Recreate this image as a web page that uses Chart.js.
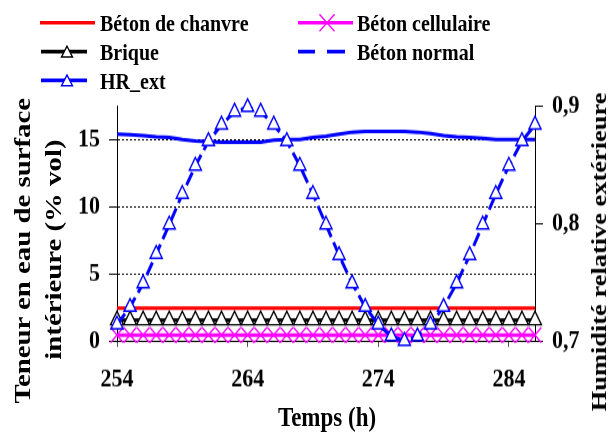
<!DOCTYPE html>
<html>
<head>
<meta charset="utf-8">
<script src="https://cdn.jsdelivr.net/npm/chart.js@4.4.1/dist/chart.umd.min.js"></script>
<style>
  html, body { margin: 0; padding: 0; background: #fff; }
  body { width: 612px; height: 432px; overflow: hidden; }
  /* the original figure is stretched vertically, so the whole drawing is too */
  #wrap { position: relative; width: 612px; height: 360px; transform: scaleY(1.2); transform-origin: 0 0;
          font-family: "Liberation Serif", "Times New Roman", serif; font-weight: 700; color: #000; }
  #chart { position: absolute; left: 0; top: 0; }
  .leg { position: absolute; height: 20px; display: flex; align-items: center; white-space: nowrap;
         font: 700 20px "Liberation Serif", "Times New Roman", serif; }
  .leg svg { margin-right: 3px; flex: none; }
  .title { position: absolute; white-space: nowrap; transform: translate(-50%, -50%);
           font: 700 23px "Liberation Serif", "Times New Roman", serif; }
  .rot { transform: translate(-50%, -50%) rotate(-90deg); }
</style>
</head>
<body>
<div id="wrap">
  <canvas id="chart" width="612" height="360"></canvas>

  <div class="leg" style="left:40px; top:9px;">
    <svg width="57" height="20"><line x1="0" y1="10" x2="55" y2="10" stroke="#ff0000" stroke-width="3"/></svg><span>Béton de chanvre</span>
  </div>
  <div class="leg" style="left:297px; top:9px;">
    <svg width="57" height="20"><line x1="1" y1="10" x2="56" y2="10" stroke="#ff00ff" stroke-width="3"/>
      <line x1="22.5" y1="3" x2="37.5" y2="17" stroke="#ff00ff" stroke-width="1.3"/>
      <line x1="22.5" y1="17" x2="37.5" y2="3" stroke="#ff00ff" stroke-width="1.3"/></svg><span>Béton cellulaire</span>
  </div>
  <div class="leg" style="left:40px; top:33px;">
    <svg width="57" height="20"><line x1="1" y1="10" x2="47" y2="10" stroke="#000" stroke-width="3"/>
      <polygon points="27,5.5 21.5,14.5 32.5,14.5" fill="#fff" stroke="#000" stroke-width="1.3"/></svg><span>Brique</span>
  </div>
  <div class="leg" style="left:297px; top:33px;">
    <svg width="57" height="20"><line x1="1" y1="10" x2="18" y2="10" stroke="#0000ff" stroke-width="3"/>
      <line x1="30" y1="10" x2="48" y2="10" stroke="#0000ff" stroke-width="3"/></svg><span>Béton normal</span>
  </div>
  <div class="leg" style="left:40px; top:57px;">
    <svg width="57" height="20"><line x1="1" y1="10" x2="47" y2="10" stroke="#0000ff" stroke-width="3"/>
      <polygon points="27,5.5 21.5,14.5 32.5,14.5" fill="#fff" stroke="#0000ff" stroke-width="1.3"/></svg><span>HR_ext</span>
  </div>

  <div class="title rot" style="left:22px; top:209px; font-size:24px;">Teneur en eau de surface</div>
  <div class="title rot" style="left:53px; top:208px; font-size:24px;">intérieure (% vol)</div>
  <div class="title rot" style="left:599px; top:210px; font-size:22px;">Humidité relative extérieure</div>
  <div class="title" style="left:327px; top:348px;">Temps (h)</div>
</div>

<script>
const hours = [254, 255, 256, 257, 258, 259, 260, 261, 262, 263, 264, 265, 266, 267, 268, 269, 270,
  271, 272, 273, 274, 275, 276, 277, 278, 279, 280, 281, 282, 283, 284, 285, 286];

// humidité relative extérieure (axe de droite)
const hrExt = [0.714, 0.729, 0.749, 0.774, 0.799, 0.825, 0.849, 0.870, 0.884, 0.895, 0.899, 0.895,
  0.884, 0.870, 0.849, 0.825, 0.799, 0.773, 0.749, 0.729, 0.714, 0.704, 0.700, 0.704, 0.714, 0.729,
  0.749, 0.773, 0.799, 0.825, 0.849, 0.870, 0.884];

// teneur en eau (% vol, axe de gauche)
const betonNormal = [15.4, 15.35, 15.3, 15.2, 15.15, 15.0, 14.9, 14.85, 14.8, 14.8, 14.8, 14.8, 14.95,
  15.0, 15.0, 15.15, 15.25, 15.4, 15.55, 15.6, 15.6, 15.6, 15.6, 15.55, 15.45, 15.3, 15.2, 15.15, 15.1,
  15.0, 15.0, 15.0, 15.0];
const betonChanvre = [2.45, 2.45, 2.45, 2.45, 2.45, 2.45, 2.45, 2.45, 2.45, 2.45, 2.45, 2.45, 2.45, 2.45,
  2.45, 2.45, 2.45, 2.45, 2.45, 2.45, 2.45, 2.45, 2.45, 2.45, 2.45, 2.45, 2.45, 2.45, 2.45, 2.45, 2.45,
  2.45, 2.45];
const brique = [1.55, 1.55, 1.55, 1.55, 1.55, 1.55, 1.55, 1.55, 1.55, 1.55, 1.55, 1.55, 1.55, 1.55, 1.55,
  1.55, 1.55, 1.55, 1.55, 1.55, 1.55, 1.55, 1.55, 1.55, 1.55, 1.55, 1.55, 1.55, 1.55, 1.55, 1.55, 1.55,
  1.55];
const betonCellulaire = [0.45, 0.45, 0.45, 0.45, 0.45, 0.45, 0.45, 0.45, 0.45, 0.45, 0.45, 0.45, 0.45,
  0.45, 0.45, 0.45, 0.45, 0.45, 0.45, 0.45, 0.45, 0.45, 0.45, 0.45, 0.45, 0.45, 0.45, 0.45, 0.45, 0.45,
  0.45, 0.45, 0.45];

const xTicks = [254, 264, 274, 284];
const leftTicks = [0, 5, 10, 15];
const rightTicks = [0.7, 0.8, 0.9];
const rightTickLabels = ['0,7', '0,8', '0,9'];

function toPoints(values) {
  return hours.map((h, i) => ({ x: h, y: values[i] }));
}

const tickFont = { family: "'Liberation Serif', 'Times New Roman', serif", size: 22, weight: 'bold' };

new Chart(document.getElementById('chart'), {
  type: 'line',
  data: {
    datasets: [
      {
        label: 'HR_ext',
        data: toPoints(hrExt),
        yAxisID: 'y1',
        clip: false,
        borderColor: '#0000ff',
        borderWidth: 3,
        borderDash: [12, 5],
        pointStyle: 'triangle',
        pointRadius: 7,
        pointBorderColor: '#0000ff',
        pointBackgroundColor: '#ffffff',
        pointBorderWidth: 1.4
      },
      {
        label: 'Béton cellulaire',
        data: toPoints(betonCellulaire),
        yAxisID: 'y',
        clip: false,
        borderColor: '#ff00ff',
        borderWidth: 3,
        pointStyle: 'crossRot',
        pointRadius: 9,
        pointBorderColor: '#ff00ff',
        pointBorderWidth: 1.3
      },
      {
        label: 'Brique',
        data: toPoints(brique),
        yAxisID: 'y',
        clip: false,
        borderColor: '#000000',
        borderWidth: 3,
        pointStyle: 'triangle',
        pointRadius: 7.5,
        pointBorderColor: '#000000',
        pointBackgroundColor: '#ffffff',
        pointBorderWidth: 1.3
      },
      {
        label: 'Béton de chanvre',
        data: toPoints(betonChanvre),
        yAxisID: 'y',
        borderColor: '#ff0000',
        borderWidth: 3,
        pointRadius: 0
      },
      {
        label: 'Béton normal',
        data: toPoints(betonNormal),
        yAxisID: 'y',
        borderColor: '#0000ff',
        borderWidth: 3,
        pointRadius: 0
      }
    ]
  },
  options: {
    responsive: false,
    animation: false,
    devicePixelRatio: 1,
    layout: { padding: { top: 88.3, left: 0, right: 0, bottom: 0 } },
    elements: { line: { tension: 0 } },
    plugins: { legend: { display: false }, tooltip: { enabled: false } },
    scales: {
      x: {
        type: 'linear',
        position: 'bottom',
        min: 254,
        max: 286,
        afterBuildTicks: s => { s.ticks = xTicks.map(v => ({ value: v })); },
        afterFit: s => { s.height = 75.8; },
        ticks: { font: tickFont, color: '#000', padding: 14, maxRotation: 0 },
        grid: { drawOnChartArea: false, tickLength: 5, tickColor: '#555' },
        border: { color: '#000', width: 1 }
      },
      y: {
        position: 'left',
        min: 0,
        max: 17.5,
        afterBuildTicks: s => { s.ticks = leftTicks.map(v => ({ value: v })); },
        afterFit: s => { s.width = 117; },
        ticks: { font: tickFont, color: '#000', padding: 9 },
        grid: {
          color: ctx => (ctx.tick && ctx.tick.value === 0 ? 'rgba(0,0,0,0)' : '#000'),
          lineWidth: 1,
          tickLength: 8,
          tickColor: '#000'
        },
        border: { color: '#000', width: 1, dash: [2, 2] }
      },
      y1: {
        position: 'right',
        min: 0.7,
        max: 0.9,
        afterBuildTicks: s => { s.ticks = rightTicks.map(v => ({ value: v })); },
        afterFit: s => { s.width = 77; },
        ticks: { font: tickFont, color: '#000', padding: 9, callback: (v, i) => rightTickLabels[i] },
        grid: { drawOnChartArea: false, tickLength: 8, tickColor: '#000' },
        border: { color: '#000', width: 1 }
      }
    }
  }
});
</script>
</body>
</html>
